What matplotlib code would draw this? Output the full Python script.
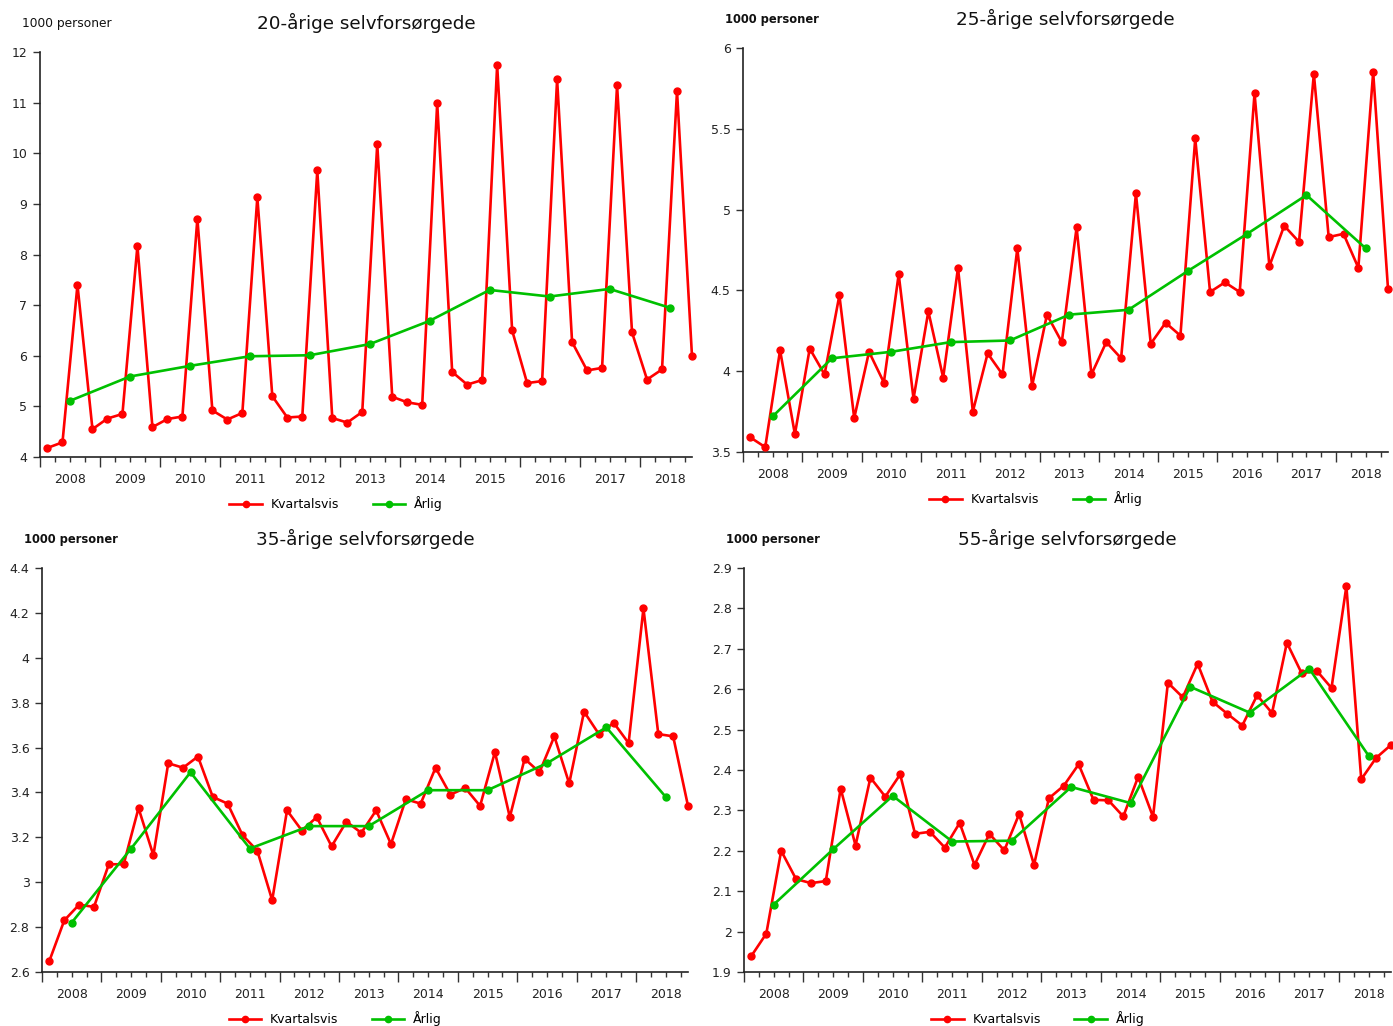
import matplotlib
matplotlib.use("Agg")
import matplotlib.pyplot as plt
import numpy as np

plt.rcParams['font.family'] = ['DejaVu Sans']

years = [str(y) for y in range(2008, 2019)]

titles = ["20-årige selvforsørgede", "25-årige selvforsørgede",
          "35-årige selvforsørgede", "55-årige selvforsørgede"]

# quarterly values 2008Q1 - 2018Q4 (1000 personer)
q20 = [4.18, 4.29, 7.40, 4.55, 4.76, 4.85, 8.17, 4.59, 4.75, 4.80, 8.71, 4.92,
       4.74, 4.87, 9.13, 5.20, 4.78, 4.80, 9.66, 4.77, 4.68, 4.89, 10.18, 5.19,
       5.08, 5.03, 10.99, 5.68, 5.43, 5.52, 11.74, 6.50, 5.46, 5.50, 11.46, 6.27,
       5.71, 5.76, 11.34, 6.46, 5.53, 5.73, 11.23, 5.99]
q25 = [3.59, 3.53, 4.13, 3.61, 4.14, 3.98, 4.47, 3.71, 4.12, 3.93, 4.60, 3.83,
       4.37, 3.96, 4.64, 3.75, 4.11, 3.98, 4.76, 3.91, 4.35, 4.18, 4.89, 3.98,
       4.18, 4.08, 5.10, 4.17, 4.30, 4.22, 5.44, 4.49, 4.55, 4.49, 5.72, 4.65,
       4.90, 4.80, 5.84, 4.83, 4.85, 4.64, 5.85, 4.51]
q35 = [2.65, 2.83, 2.90, 2.89, 3.08, 3.08, 3.33, 3.12, 3.53, 3.51, 3.56, 3.38,
       3.35, 3.21, 3.14, 2.92, 3.32, 3.23, 3.29, 3.16, 3.27, 3.22, 3.32, 3.17,
       3.37, 3.35, 3.51, 3.39, 3.42, 3.34, 3.58, 3.29, 3.55, 3.49, 3.65, 3.44,
       3.76, 3.66, 3.71, 3.62, 4.22, 3.66, 3.65, 3.34]
q55 = [1.94, 1.995, 2.20, 2.13, 2.12, 2.125, 2.354, 2.213, 2.381, 2.334, 2.389, 2.242,
       2.247, 2.208, 2.269, 2.165, 2.242, 2.201, 2.291, 2.165, 2.33, 2.361, 2.414, 2.326,
       2.325, 2.285, 2.383, 2.284, 2.616, 2.580, 2.663, 2.569, 2.539, 2.510, 2.585, 2.541,
       2.715, 2.639, 2.646, 2.603, 2.855, 2.377, 2.43, 2.462]

# annual values 2008 - 2018
a20 = [5.11, 5.59, 5.80, 5.99, 6.01, 6.23, 6.69, 7.30, 7.17, 7.32, 6.95]
a25 = [3.72, 4.08, 4.12, 4.18, 4.19, 4.35, 4.38, 4.62, 4.85, 5.09, 4.76]
a35 = [2.82, 3.15, 3.49, 3.15, 3.25, 3.25, 3.41, 3.41, 3.53, 3.69, 3.38]
a55 = [2.067, 2.204, 2.336, 2.223, 2.225, 2.358, 2.318, 2.606, 2.542, 2.651, 2.435]

ylims = [(4, 12, 1), (3.5, 6, 0.5), (2.6, 4.4, 0.2), (1.9, 2.9, 0.1)]

W, H = 1393, 1026
# axes boxes in pixels: left, top, right, bottom
boxes = [(40, 52, 692, 457), (743, 48, 1388, 452),
         (42, 568, 688, 972), (744, 568, 1391, 972)]
label_bold = [False, True, True, True]

fig = plt.figure(figsize=(W / 100, H / 100), dpi=100)

RED = '#ff0000'
GREEN = '#00c000'

for i, (qv, av) in enumerate(zip([q20, q25, q35, q55], [a20, a25, a35, a55])):
    l, t, r, b = boxes[i]
    ax = fig.add_axes([l / W, 1 - b / H, (r - l) / W, (b - t) / H])
    hpx = b - t
    wpx = r - l

    xq = np.arange(len(qv)) + 0.5
    xa = np.arange(len(av)) * 4 + 2
    ax.plot(xq, qv, color=RED, lw=1.9, marker='o', ms=5, label='Kvartalsvis',
            clip_on=False, zorder=3)
    ax.plot(xa, av, color=GREEN, lw=1.9, marker='o', ms=5, label='Årlig',
            clip_on=False, zorder=4)

    y0, y1, st = ylims[i]
    ax.set_ylim(y0, y1)
    yt = np.arange(y0, y1 + st / 2, st)
    ax.set_yticks(yt, labels=['%g' % round(v, 2) for v in yt])

    ax.set_xlim(0, 43.5)
    ax.set_xticks(np.arange(0, 44, 4), labels=[''] * 11)
    minor = [k for k in range(44) if k % 4]
    ax.set_xticks(minor, labels=[years[k // 4] if k % 4 == 2 else '' for k in minor],
                  minor=True)
    ax.tick_params(axis='x', which='major', length=7, width=1, color='#333333')
    ax.tick_params(axis='x', which='minor', length=3.5, width=1, color='#333333',
                   pad=8, labelsize=9, labelcolor='#222222')
    ax.tick_params(axis='y', length=5, width=1, color='#333333', pad=4,
                   labelsize=9, labelcolor='#222222')

    for s in ['top', 'right']:
        ax.spines[s].set_visible(False)
    for s in ['left', 'bottom']:
        ax.spines[s].set_color('#222222')
        ax.spines[s].set_linewidth(1.2)

    ax.text(0.5, 1 + 29 / hpx, titles[i], transform=ax.transAxes,
            ha='center', va='center', fontsize=13.2, color='#111111')
    ax.text(-18 / wpx, 1 + 29 / hpx, '1000 personer', transform=ax.transAxes,
            ha='left', va='center', fontsize=8.3 if label_bold[i] else 8.8,
            fontweight='bold' if label_bold[i] else 'normal', color='#111111')

    ax.legend(loc='center', bbox_to_anchor=(0.454, -47 / hpx), ncol=2,
              frameon=False, fontsize=9, handlelength=2.6, handletextpad=0.7,
              columnspacing=2.7, borderpad=0, markerscale=0.9)

fig.savefig('out.png', dpi=100)
